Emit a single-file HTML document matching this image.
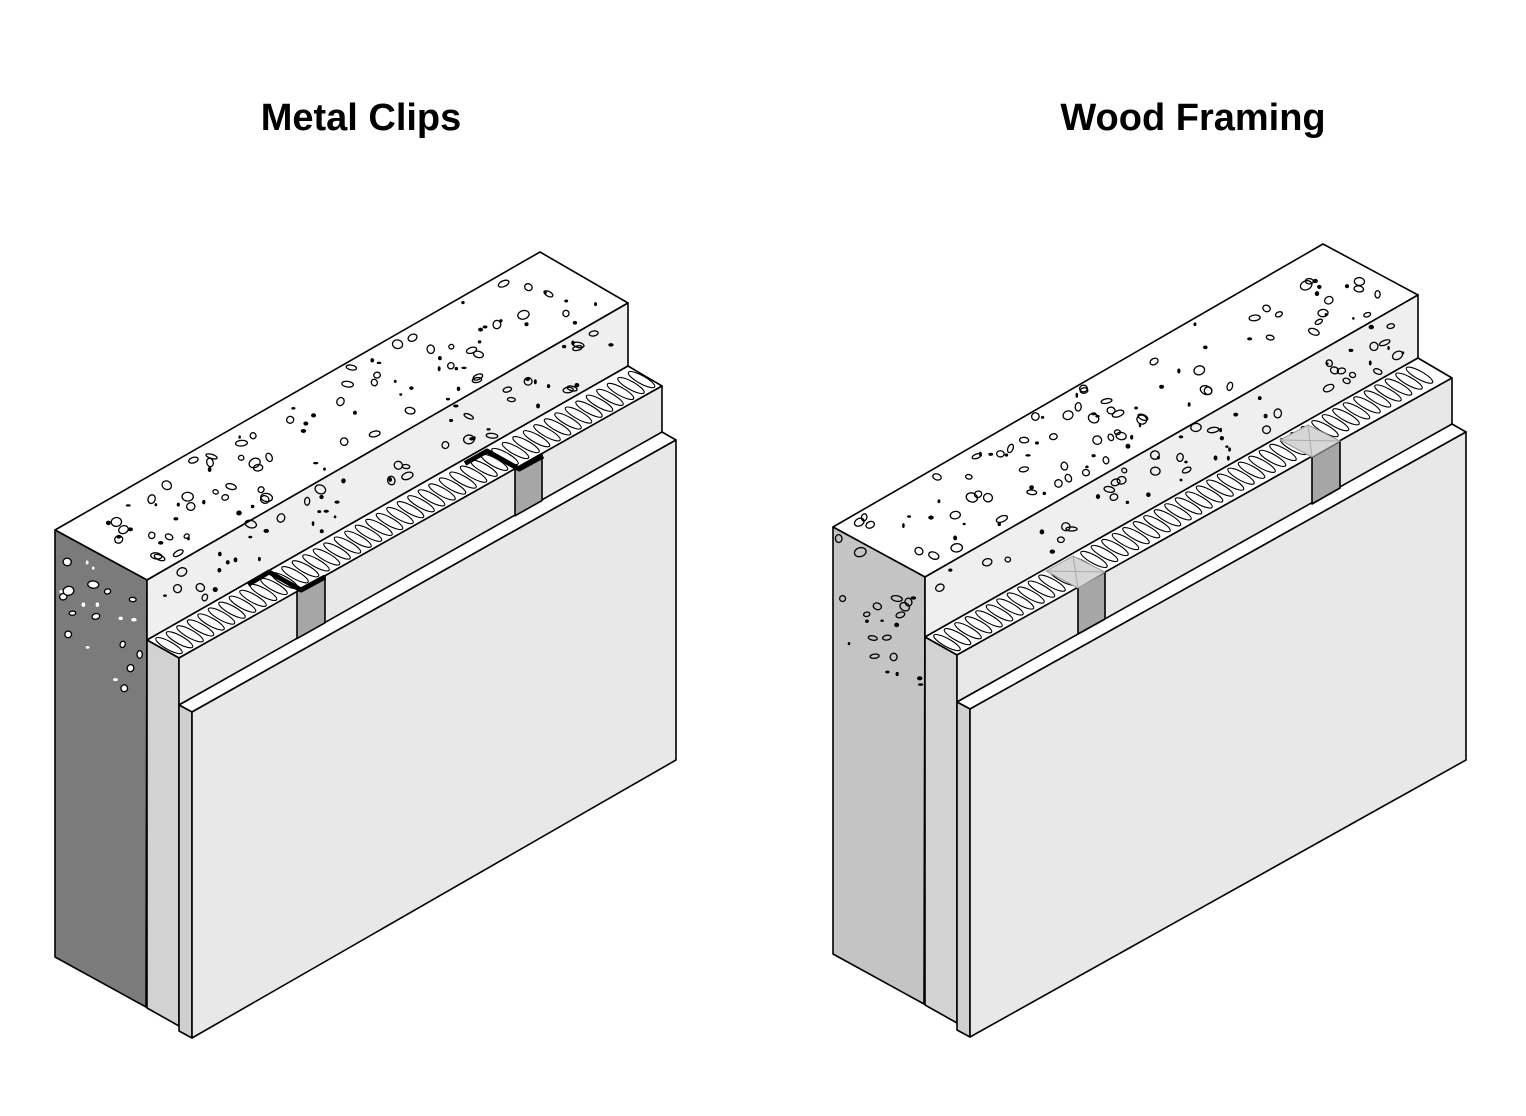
<!DOCTYPE html>
<html><head><meta charset="utf-8"><style>
html,body{margin:0;padding:0;background:#fff;}
svg{display:block;}
text{font-family:"Liberation Sans",Arial,sans-serif;font-weight:bold;}
</style></head><body>
<svg id="s" width="1526" height="1116" viewBox="0 0 1526 1116" xmlns="http://www.w3.org/2000/svg">
<rect width="1526" height="1116" fill="#fff"/>
<text x="361" y="130" font-size="38" text-anchor="middle" fill="#000">Metal Clips</text>
<text x="1193" y="130" font-size="38" text-anchor="middle" fill="#000">Wood Framing</text>

<g stroke="#000" stroke-width="1.6" stroke-linejoin="round">
<!-- LEFT FIGURE -->
<polygon points="55,530 540,252 628,303 147,580" fill="#fff"/>
<polygon points="55,530 147,580 146,1007 55,957" fill="#7b7b7b"/>
<polygon points="147,580 628,303 628,366 147,640" fill="#efefef"/>
<polygon points="147,640 628,366 662,386 179,658" fill="#fff"/>
<polygon points="147,640 179,658 179,1026 147,1008" fill="#d2d2d2"/>
<polygon points="179,658 662,386 662,434 179,705" fill="#e8e8e8"/>
<polygon points="179,705 662,432 676,440 192,712" fill="#fff"/>
<polygon points="179,705 192,712 192,1038 179,1031" fill="#cfcfcf"/>
<polygon points="192,712 676,440 676,760 192,1038" fill="#e8e8e8"/>
<polygon points="297,591.6 325,575.8 325,622.8 297,638.6" fill="#a6a6a6"/>
<polygon points="515,468.8 542,453.6 542,500.6 515,515.8" fill="#a6a6a6"/>

<!-- RIGHT FIGURE -->
<polygon points="833,527 1323,244 1418,295 925,577" fill="#fff"/>
<polygon points="833,527 925,577 924,1004 833,954" fill="#c4c4c4"/>
<polygon points="925,577 1418,295 1418,358 925,637" fill="#efefef"/>
<polygon points="925,637 1418,358 1452,378 957,655" fill="#fff"/>
<polygon points="925,637 957,655 957,1023 925,1005" fill="#d2d2d2"/>
<polygon points="957,655 1452,378 1452,426 957,702" fill="#e8e8e8"/>
<polygon points="957,702 1452,424 1466,432 970,709" fill="#fff"/>
<polygon points="957,702 970,709 970,1037 957,1030" fill="#cfcfcf"/>
<polygon points="970,709 1466,432 1466,760 970,1037" fill="#e8e8e8"/>
<polygon points="1078,587 1105,572 1105,619 1078,634" fill="#a6a6a6"/>
<polygon points="1312,457 1340,441 1340,488 1312,504" fill="#a6a6a6"/>
</g>
<g id="tex"></g>
<g stroke-linejoin="round">
<!-- clips -->
<polyline points="248,584.5 269,572 301,590 325,577" fill="none" stroke="#000" stroke-width="5"/>
<polyline points="465,463.5 487,451 519,469 543,456" fill="none" stroke="#000" stroke-width="5"/>
<!-- wood blocks -->
<polygon points="1046,571 1073,556 1105,572 1078,588" fill="#d6d6d6" stroke="#999" stroke-width="1"/>
<path d="M1046,571 L1105,572 M1073,556 L1078,588" stroke="#aaa" stroke-width="1"/>
<polygon points="1280,440 1308,425 1340,441 1312,457" fill="#d6d6d6" stroke="#999" stroke-width="1"/>
<path d="M1280,440 L1340,441 M1308,425 L1312,457" stroke="#aaa" stroke-width="1"/>
</g>
</svg>
<script>
(function(){
var NS="http://www.w3.org/2000/svg",g=document.getElementById("tex");
var seed=12345;function r(){seed=(seed*16807)%2147483647;return (seed-1)/2147483646;}
function P(M,t,s){return [M[0]*t+M[2]*s+M[4],M[1]*t+M[3]*s+M[5]];}
function el(tag,a){var e=document.createElementNS(NS,tag);for(var k in a)e.setAttribute(k,a[k]);g.appendChild(e);return e;}
function dots(M,n,dark){
 for(var i=0;i<n;i++){var p=P(M,0.03+0.94*r(),0.06+0.88*r());var k=r();
  if(k<0.5){el("ellipse",{cx:p[0],cy:p[1],rx:1.2+r()*1.6,ry:1.2+r()*1.4,fill:dark?"#fff":"#000"});}
  else{el("ellipse",{cx:p[0],cy:p[1],rx:2.5+r()*3.5,ry:2+r()*2.5,fill:dark?"#fff":"none",stroke:dark?"#000":"#000","stroke-width":1.3,transform:"rotate("+(r()*60-30)+" "+p[0]+" "+p[1]+")"});}
 }}
function ins(M,L){
 for(var t=6;t<L-4;t+=10.5){var p=P(M,t,0.5);
  el("ellipse",{cx:p[0],cy:p[1],rx:15,ry:4,fill:"none",stroke:"#000","stroke-width":1.1,transform:"rotate(29 "+p[0]+" "+p[1]+")"});}}
// left
dots([485,-278,92,50,55,530],95,false);
dots([481,-277,0,60,147,580],55,false);
dots([92,50,0,130,55,530],22,true);
ins([1,-0.563,32,18,147,640],483);
// right
dots([490,-283,92,50,833,527],95,false);
dots([493,-282,0,60,925,577],55,false);
dots([92,50,0,130,833,527],22,false);
ins([1,-0.566,32,18,925,637],493);
})();
</script>
</body></html>
